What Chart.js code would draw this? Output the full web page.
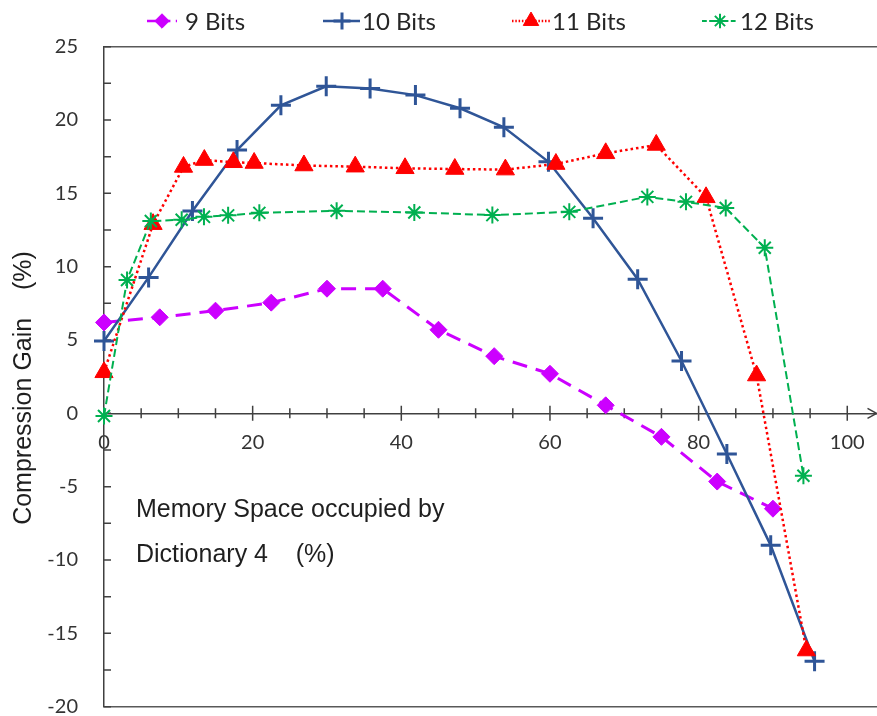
<!DOCTYPE html>
<html>
<head>
<meta charset="utf-8">
<script src="https://cdn.jsdelivr.net/npm/chart.js@4.4.1/dist/chart.umd.min.js"></script>
<style>
html,body{margin:0;padding:0;background:#ffffff;overflow:hidden;}
#c{display:block;}
</style>
</head>
<body>
<canvas id="c" width="877" height="716" style="width:877px;height:716px;"></canvas>
<script>
// ---------- data ----------
const seriesNames = ['9 Bits', '10 Bits', '11 Bits', '12 Bits'];

const bits9X = [0, 7.5, 15, 22.5, 30, 37.5, 45, 52.5, 60, 67.5, 75, 82.5, 90];
const bits9Y = [6.2, 6.55, 7.0, 7.55, 8.5, 8.5, 5.7, 3.9, 2.7, 0.55, -1.6, -4.65, -6.5];

const bits10X = [0, 6, 11.9, 17.9, 23.8, 29.9, 35.8, 41.9, 47.9, 53.8, 59.8, 65.8, 71.8, 77.7, 83.8, 89.7, 95.6];
const bits10Y = [4.93, 9.27, 13.8, 17.95, 21.0, 22.3, 22.15, 21.7, 20.8, 19.5, 17.15, 13.3, 9.15, 3.57, -2.77, -9.0, -16.9];

const bits11X = [0, 6.6, 10.7, 13.5, 17.4, 20.2, 26.9, 33.8, 40.5, 47.2, 54.0, 60.8, 67.5, 74.3, 81.0, 87.8, 94.5];
const bits11Y = [2.8, 12.9, 16.8, 17.27, 17.12, 17.07, 16.9, 16.82, 16.71, 16.66, 16.62, 17.0, 17.73, 18.3, 14.73, 2.58, -16.17];

const bits12X = [0, 3.1, 6.3, 10.45, 13.45, 16.7, 20.9, 31.3, 41.75, 52.25, 62.6, 73.1, 78.3, 83.65, 88.9, 94.1];
const bits12Y = [-0.18, 9.09, 13.11, 13.2, 13.4, 13.5, 13.67, 13.81, 13.7, 13.52, 13.74, 14.76, 14.42, 14.0, 11.29, -4.25];

const xTickLabels = [0, 20, 40, 60, 80, 100];
const yTickLabels = [-20, -15, -10, -5, 0, 5, 10, 15, 20, 25];

const yTitle = 'Compression Gain    (%)';
const noteLines = ['Memory Space occupied by', 'Dictionary 4    (%)'];

// ---------- styles ----------
const styles = [
  {color: '#CC00FF', width: 3,   dash: [15, 9],  point: 'rectRot',  radius: 8.5,  pbw: 1},
  {color: '#2F5597', width: 2.5, dash: [],       point: 'cross',    radius: 10,   pbw: 3},
  {color: '#FF0000', width: 2.5, dash: [2.5, 3], point: 'triangle', radius: 10.5, pbw: 1},
  {color: '#00B050', width: 2,   dash: [8, 4],   point: 'star',     radius: 8.5,  pbw: 2}
];
const xsArr = [bits9X, bits10X, bits11X, bits12X];
const ysArr = [bits9Y, bits10Y, bits11Y, bits12Y];

const datasets = seriesNames.map((name, i) => ({
  label: name,
  data: xsArr[i].map((x, k) => ({x: x, y: ysArr[i][k]})),
  borderColor: styles[i].color,
  backgroundColor: styles[i].color,
  borderWidth: styles[i].width,
  borderDash: styles[i].dash,
  pointStyle: styles[i].point,
  pointRadius: styles[i].radius,
  pointHoverRadius: styles[i].radius,
  pointBorderWidth: styles[i].pbw,
  pointBorderColor: styles[i].color,
  pointBackgroundColor: styles[i].color,
  tension: 0,
  fill: false,
  clip: false,
  order: 4 - i
}));

// ---------- plugins ----------
const axisDecor = {
  id: 'axisDecor',
  beforeDatasetsDraw(chart) {
    const ctx = chart.ctx, xs = chart.scales.x, ys = chart.scales.y;
    const y0 = ys.getPixelForValue(0);
    ctx.save();
    ctx.strokeStyle = '#404040';
    ctx.lineWidth = 1.5;
    ctx.beginPath();
    xs.ticks.forEach(t => {
      if (t.value === 0) return;
      const px = xs.getPixelForValue(t.value);
      const len = (t.value % 20 === 0) ? 7.5 : 5;
      ctx.moveTo(px, y0 - len); ctx.lineTo(px, y0 + len);
    });
    ys.ticks.forEach(t => {
      const py = ys.getPixelForValue(t.value);
      ctx.moveTo(xs.left, py); ctx.lineTo(xs.left + 7, py);
    });
    ctx.stroke();
    // arrow head at the end of the x axis
    const xr = chart.chartArea.right - 0.5;
    ctx.beginPath();
    ctx.moveTo(xr - 9, y0 - 5); ctx.lineTo(xr, y0); ctx.lineTo(xr - 9, y0 + 5);
    ctx.stroke();
    ctx.restore();
  }
};

const legendPos = [
  {lx1: 147, lx2: 177, mx: 162, tx: 185},
  {lx1: 323, lx2: 360, mx: 342, tx: 362},
  {lx1: 512, lx2: 550, mx: 531, tx: 552},
  {lx1: 702, lx2: 738, mx: 720, tx: 740}
];

function drawMarker(ctx, style, r, x, y) {
  if (Chart.helpers && Chart.helpers.drawPoint) {
    Chart.helpers.drawPoint(ctx, {pointStyle: style, radius: r, rotation: 0, borderWidth: ctx.lineWidth}, x, y);
  }
}

const extras = {
  id: 'extras',
  afterDraw(chart) {
    const ctx = chart.ctx;
    ctx.save();
    // legend
    const legendY = 21;
    chart.data.datasets.forEach((ds, i) => {
      const p = legendPos[i], s = styles[i];
      ctx.strokeStyle = s.color;
      ctx.fillStyle = s.color;
      ctx.lineWidth = Math.min(s.width, 2.5);
      ctx.setLineDash(s.dash.map(d => d * 0.6));
      ctx.beginPath(); ctx.moveTo(p.lx1, legendY); ctx.lineTo(p.lx2, legendY); ctx.stroke();
      ctx.setLineDash([]);
      ctx.lineWidth = s.pbw;
      drawMarker(ctx, s.point, s.radius * 0.85, p.mx, legendY);
      ctx.fillStyle = '#262626';
      ctx.font = '24px Lato';
      ctx.textAlign = 'left';
      ctx.textBaseline = 'alphabetic';
      ctx.fillText(ds.label, p.tx, 30);
    });
    // y axis title
    ctx.fillStyle = '#1f1f1f';
    ctx.font = '25px "Liberation Sans", Arial, sans-serif';
    ctx.save();
    ctx.translate(31, 388);
    ctx.rotate(-Math.PI / 2);
    ctx.textAlign = 'center';
    ctx.textBaseline = 'alphabetic';
    ctx.fillText(yTitle, 0, 0);
    ctx.restore();
    // note inside the plot
    ctx.textAlign = 'left';
    ctx.textBaseline = 'alphabetic';
    ctx.fillText(noteLines[0], 136, 517);
    ctx.fillText(noteLines[1], 136, 562);
    ctx.restore();
  }
};

new Chart(document.getElementById('c'), {
  type: 'line',
  data: {datasets: datasets},
  options: {
    responsive: false,
    maintainAspectRatio: false,
    animation: false,
    devicePixelRatio: 1,
    layout: {autoPadding: false, padding: {top: 46.7, left: 0, right: 0, bottom: 9.3}},
    plugins: {legend: {display: false}, tooltip: {enabled: false}},
    scales: {
      x: {
        type: 'linear',
        position: {y: 0},
        min: 0,
        max: 104,
        afterBuildTicks: s => { s.ticks = s.ticks.filter(t => t.value <= 100 && Math.abs(t.value % 5) < 1e-9); },
        afterFit: s => { s.height = 0; s.paddingLeft = 0; s.paddingRight = 0; },
        grid: {display: false, drawTicks: false},
        border: {display: true, color: '#404040', width: 1.5},
        ticks: {
          stepSize: 5, autoSkip: false, maxRotation: 0, padding: 17.5, includeBounds: false,
          color: '#333333', font: {family: 'Lato', size: 20},
          callback: v => xTickLabels.includes(v) ? String(v) : ''
        }
      },
      y: {
        type: 'linear',
        min: -20,
        max: 25,
        afterFit: s => { s.width = 104; s.paddingTop = 0; s.paddingBottom = 0; },
        grid: {
          drawTicks: false,
          lineWidth: 1.5,
          color: c => (c.tick && (c.tick.value === 25 || c.tick.value === -20)) ? '#595959' : 'rgba(0,0,0,0)'
        },
        border: {display: true, color: '#404040', width: 1.5},
        ticks: {
          stepSize: 2.5, autoSkip: false, padding: 26,
          color: '#333333', font: {family: 'Lato', size: 20},
          callback: v => yTickLabels.includes(v) ? String(v) : ''
        }
      }
    }
  },
  plugins: [axisDecor, extras]
});
</script>
</body>
</html>
